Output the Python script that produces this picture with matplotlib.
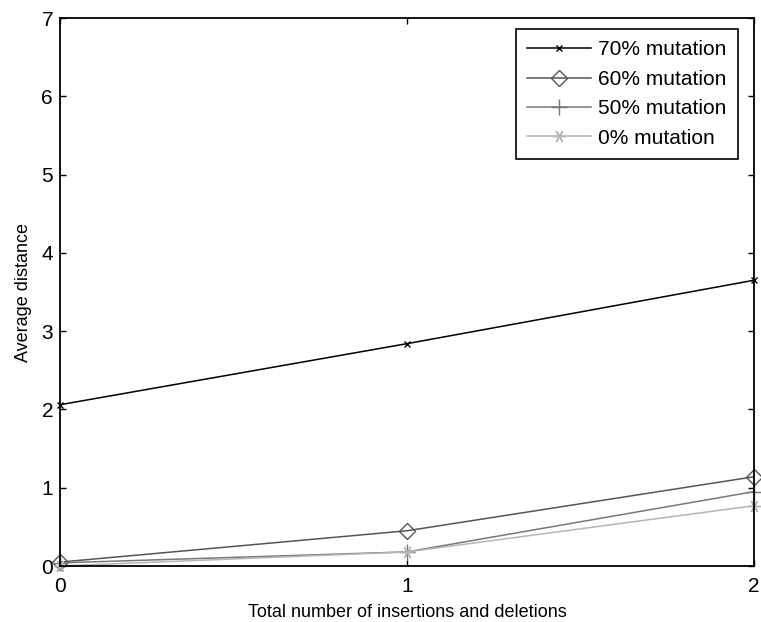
import numpy as np
import matplotlib
matplotlib.use('Agg')
import matplotlib.pyplot as plt

plt.rcParams['font.family'] = ['Liberation Sans', 'DejaVu Sans']

x = [0, 1, 2]
mut70 = [2.06, 2.84, 3.65]
mut60 = [0.05, 0.45, 1.14]
mut50 = [0.04, 0.18, 0.95]
mut0 = [0.00, 0.18, 0.77]

fig = plt.figure(figsize=(7.61, 6.22), dpi=100)
ax = fig.add_axes([60 / 761, 1 - 566 / 622, 694 / 761, 548 / 622])

ax.plot(x, mut70, color='black', marker='x', markersize=5, lw=1.1, label='70% mutation', clip_on=False)
ax.plot(x, mut60, color='#555555', marker='D', markersize=8, markerfacecolor='none', lw=1.1, label='60% mutation', clip_on=False)
ax.plot(x, mut50, color='#777777', marker='+', markersize=12, lw=1.1, label='50% mutation', clip_on=False)
ax.plot(x, mut0, color='#b5b5b5', marker=(6, 2, 90), markersize=9, lw=1.1, label='0% mutation', clip_on=False)

ax.set_xlim(0, 2)
ax.set_ylim(0, 7)
ax.set_xticks([0, 1, 2])
ax.set_yticks(range(0, 8))
ax.tick_params(direction='in', top=True, right=True, labelsize=15, length=4.5, width=1)
ax.tick_params(axis='x', pad=8)
ax.tick_params(axis='y', pad=5)
for s in ax.spines.values():
    s.set_linewidth(1.3)

ax.set_xlabel('Total number of insertions and deletions', fontsize=13, labelpad=6)
ax.set_ylabel('Average distance', fontsize=13, labelpad=7)

leg = ax.legend(loc='upper right', fontsize=15, fancybox=False, framealpha=1,
                edgecolor='black', borderaxespad=0, handlelength=3.05,
                handletextpad=0.35, labelspacing=0.5, borderpad=0.55,
                bbox_to_anchor=(738 / 761, 1 - 29 / 622), bbox_transform=fig.transFigure)
leg.get_frame().set_linewidth(1.2)

fig.savefig('out.png', dpi=100)
